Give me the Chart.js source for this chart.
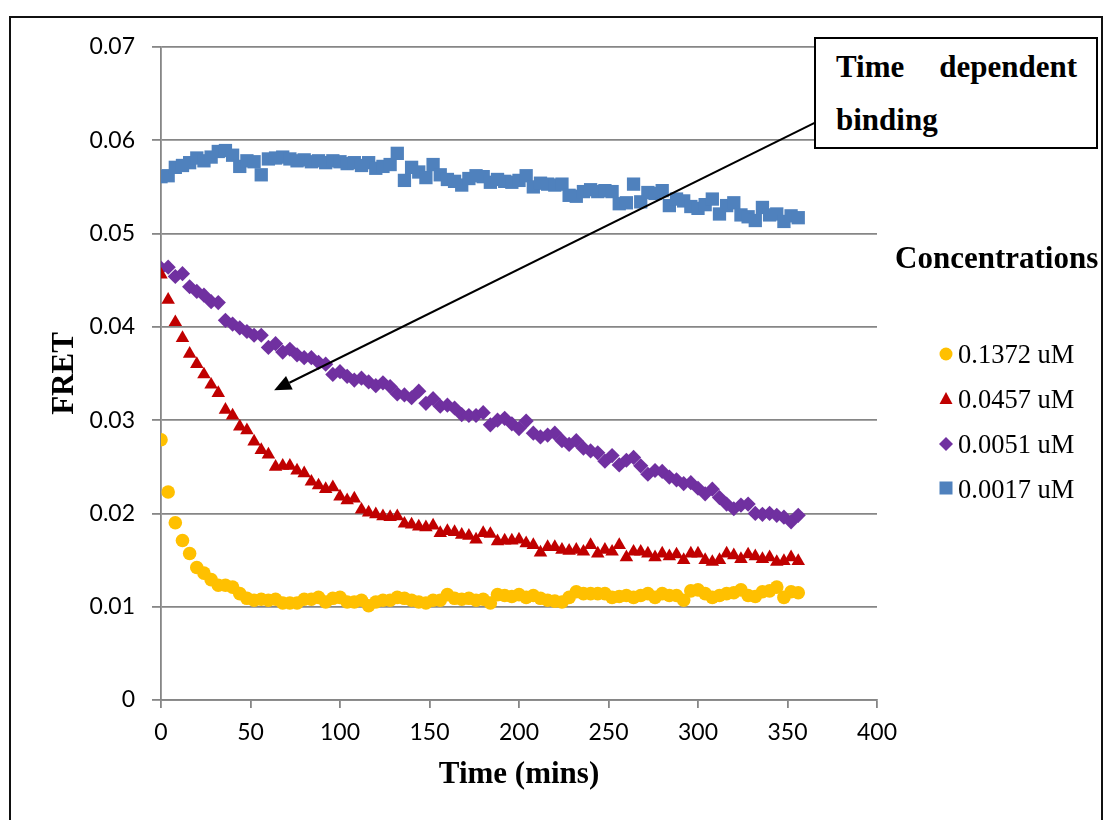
<!DOCTYPE html>
<html>
<head>
<meta charset="utf-8">
<script src="https://cdn.jsdelivr.net/npm/chart.js@4/dist/chart.umd.min.js"></script>
<style>
  html, body { margin:0; padding:0; background:#fff; overflow:hidden; }
  #wrap { position:relative; width:1104px; height:820px; overflow:hidden; }
  #c { position:absolute; left:0; top:0; }
  #frame { position:absolute; left:9px; top:16px; width:1094px; height:900px; box-sizing:border-box; border:2px solid #111; pointer-events:none; }
  .serif { font-family:"Liberation Serif","Times New Roman",serif; color:#000; }
  #note { position:absolute; left:814px; top:37px; width:284px; height:112px; box-sizing:border-box;
          border:2px solid #000; background:#fff; padding:1px 19px 0 20px; font-size:31px; font-weight:bold;
          line-height:53px; text-align:justify; }
  #legTitle { position:absolute; left:895px; top:242px; font-size:31px; font-weight:bold; line-height:31px; white-space:nowrap; }
  .leg { position:absolute; left:938px; font-size:26.5px; line-height:26px; white-space:nowrap; }
  .leg svg { position:absolute; left:0; top:0; }
  .leg span { position:absolute; left:20px; top:0; }
</style>
</head>
<body>
<div id="wrap">
  <canvas id="c" width="1104" height="820"></canvas>
  <div id="frame"></div>
  <div id="note" class="serif">Time dependent binding</div>
  <div id="legTitle" class="serif">Concentrations</div>
  <div id="legend"></div>
</div>
<script>
// ---- data ----
const times = [0,4,8,12,16,20,24,28,32,36,40,44,48,52,56,60,64,68,72,76,80,84,88,92,96,100,104,108,112,116,
  120,124,128,132,136,140,144,148,152,156,160,164,168,172,176,180,184,188,192,196,200,204,208,212,216,220,224,228,232,236,
  240,244,248,252,256,260,264,268,272,276,280,284,288,292,296,300,304,308,312,316,320,324,328,332,336,340,344,348,352,356];

const seriesNames = ['0.1372 uM','0.0457 uM','0.0051 uM','0.0017 uM'];

const fret01372 = [0.0279,0.0223,0.0190,0.0171,0.0157,0.0142,0.0136,0.0129,0.0123,0.0123,
  0.0121,0.0114,0.0109,0.0107,0.0108,0.0107,0.0108,0.0104,0.0104,0.0104,
  0.0108,0.0108,0.0110,0.0105,0.0109,0.0110,0.0105,0.0105,0.0107,0.0101,
  0.0105,0.0107,0.0107,0.0110,0.0109,0.0107,0.0105,0.0104,0.0107,0.0107,
  0.0113,0.0109,0.0108,0.0109,0.0107,0.0108,0.0104,0.0113,0.0112,0.0111,
  0.0113,0.0110,0.0112,0.0109,0.0107,0.0106,0.0105,0.0110,0.0116,0.0114,
  0.0114,0.0114,0.0114,0.0110,0.0111,0.0112,0.0110,0.0112,0.0114,0.0110,
  0.0114,0.0112,0.0112,0.0107,0.0117,0.0118,0.0114,0.0110,0.0112,0.0114,
  0.0115,0.0118,0.0112,0.0111,0.0116,0.0117,0.0121,0.0110,0.0116,0.0115];

const fret00457 = [0.0456,0.0429,0.0405,0.0388,0.0371,0.0360,0.0349,0.0338,0.0329,0.0311,
  0.0305,0.0293,0.0289,0.0277,0.0268,0.0263,0.0250,0.0251,0.0251,0.0246,
  0.0243,0.0234,0.0230,0.0226,0.0228,0.0218,0.0214,0.0216,0.0204,0.0201,
  0.0199,0.0197,0.0196,0.0197,0.0189,0.0188,0.0186,0.0185,0.0187,0.0179,
  0.0181,0.0180,0.0177,0.0176,0.0172,0.0179,0.0178,0.0170,0.0171,0.0171,
  0.0172,0.0168,0.0166,0.0158,0.0164,0.0164,0.0161,0.0160,0.0161,0.0159,
  0.0166,0.0157,0.0161,0.0159,0.0166,0.0153,0.0159,0.0159,0.0157,0.0153,
  0.0157,0.0154,0.0156,0.0150,0.0157,0.0157,0.0150,0.0148,0.0150,0.0157,
  0.0155,0.0151,0.0156,0.0154,0.0151,0.0153,0.0148,0.0149,0.0153,0.0149];

const fret00051 = [0.0463,0.0464,0.0454,0.0457,0.0443,0.0438,0.0434,0.0427,0.0426,0.0407,
  0.0403,0.0399,0.0395,0.0391,0.0391,0.0378,0.0382,0.0373,0.0376,0.0370,
  0.0367,0.0367,0.0362,0.0360,0.0349,0.0352,0.0347,0.0343,0.0345,0.0341,
  0.0337,0.0340,0.0336,0.0328,0.0327,0.0324,0.0331,0.0318,0.0323,0.0315,
  0.0316,0.0313,0.0306,0.0305,0.0305,0.0308,0.0295,0.0300,0.0302,0.0296,
  0.0291,0.0299,0.0286,0.0282,0.0284,0.0286,0.0278,0.0274,0.0278,0.0270,
  0.0267,0.0265,0.0256,0.0262,0.0252,0.0257,0.0260,0.0251,0.0242,0.0246,
  0.0245,0.0239,0.0236,0.0232,0.0233,0.0227,0.0221,0.0226,0.0217,0.0210,
  0.0205,0.0209,0.0210,0.0200,0.0199,0.0200,0.0198,0.0196,0.0191,0.0198];

const fret00017 = [0.0561,0.0562,0.0571,0.0573,0.0576,0.0581,0.0578,0.0582,0.0588,0.0589,
  0.0584,0.0572,0.0578,0.0577,0.0563,0.0580,0.0581,0.0582,0.0580,0.0578,
  0.0579,0.0577,0.0578,0.0576,0.0578,0.0577,0.0575,0.0576,0.0573,0.0576,
  0.0570,0.0572,0.0574,0.0586,0.0557,0.0571,0.0566,0.0560,0.0574,0.0563,
  0.0558,0.0556,0.0552,0.0559,0.0562,0.0561,0.0555,0.0558,0.0556,0.0555,
  0.0557,0.0562,0.0550,0.0554,0.0553,0.0552,0.0553,0.0541,0.0540,0.0545,
  0.0547,0.0545,0.0546,0.0545,0.0532,0.0533,0.0553,0.0534,0.0544,0.0543,
  0.0546,0.0530,0.0537,0.0535,0.0529,0.0527,0.0531,0.0537,0.0521,0.0530,
  0.0533,0.0520,0.0518,0.0514,0.0528,0.0520,0.0521,0.0513,0.0519,0.0517];

const xTickLabels = ['0','50','100','150','200','250','300','350','400'];
const yTickLabels = ['0','0.01','0.02','0.03','0.04','0.05','0.06','0.07'];

// annotation arrow (data coordinates: tail at text box, head in plot)
const arrowTail = {x: 365.4, y: 0.0619};
const arrowHead = {x: 63.2, y: 0.0332};

// ---- styling ----
const colors = ['#FFC000','#C00000','#7030A0','#4F81BD'];
const shapes = ['circle','triangle','rectRot','rect'];
const radii  = [6.8, 7.8, 7.6, 9.4];
const allSeries = [fret01372, fret00457, fret00051, fret00017];

const datasets = allSeries.map((vals, k) => ({
  label: seriesNames[k],
  data: vals.map((v, i) => ({x: times[i], y: v})),
  showLine: false,
  pointStyle: shapes[k],
  pointRadius: radii[k],
  pointHoverRadius: radii[k],
  pointBackgroundColor: colors[k],
  pointBorderColor: colors[k],
  pointBorderWidth: 0,
  backgroundColor: colors[k],
  borderColor: colors[k]
}));

const gridCol = '#868686';
const tickFont = {family: 'Lato', size: 23};
const titleFont = {family: '"Liberation Serif", "Times New Roman", serif', size: 31, weight: 'bold'};

const arrowPlugin = {
  id: 'arrow',
  afterDraw(chart) {
    const {ctx, scales:{x, y}} = chart;
    const x1 = x.getPixelForValue(arrowTail.x), y1 = y.getPixelForValue(arrowTail.y);
    const x2 = x.getPixelForValue(arrowHead.x), y2 = y.getPixelForValue(arrowHead.y);
    const ang = Math.atan2(y2 - y1, x2 - x1);
    const L = 17, W = 7.5;
    const bx = x2 - Math.cos(ang) * L, by = y2 - Math.sin(ang) * L;
    ctx.save();
    ctx.strokeStyle = '#000'; ctx.fillStyle = '#000'; ctx.lineWidth = 2;
    ctx.beginPath(); ctx.moveTo(x1, y1); ctx.lineTo(bx, by); ctx.stroke();
    ctx.beginPath();
    ctx.moveTo(x2, y2);
    ctx.lineTo(bx + Math.sin(ang) * W, by - Math.cos(ang) * W);
    ctx.lineTo(bx - Math.sin(ang) * W, by + Math.cos(ang) * W);
    ctx.closePath(); ctx.fill();
    ctx.restore();
  }
};

new Chart(document.getElementById('c'), {
  type: 'scatter',
  data: { datasets },
  options: {
    responsive: false,
    animation: false,
    events: [],
    layout: { padding: { left: 0, top: 47, right: 227, bottom: 0 } },
    plugins: { legend: { display: false }, tooltip: { enabled: false } },
    scales: {
      x: {
        type: 'linear', min: 0, max: 400,
        ticks: { stepSize: 50, padding: 11, font: tickFont, color: '#000',
                 callback: (v, i) => xTickLabels[i] },
        grid: { drawOnChartArea: false, drawTicks: true, tickLength: 8, color: gridCol, lineWidth: 1.8 },
        border: { display: true, color: gridCol, width: 1.8 },
        title: { display: true, text: 'Time (mins)', font: titleFont, color: '#000', padding: { top: 0, bottom: 26 } },
        afterFit: s => { s.height = 120; }
      },
      y: {
        type: 'linear', min: 0, max: 0.07,
        ticks: { stepSize: 0.01, padding: 17, font: tickFont, color: '#000',
                 callback: (v, i) => yTickLabels[i] },
        grid: { drawOnChartArea: true, drawTicks: true, tickLength: 9, color: gridCol, lineWidth: 1.8 },
        border: { display: true, color: gridCol, width: 1.8 },
        title: { display: true, text: 'FRET', font: titleFont, color: '#000', padding: { top: 46, bottom: 0 } },
        afterFit: s => { s.width = 161; }
      }
    }
  },
  plugins: [arrowPlugin]
});

// ---- legend (HTML) ----
const legendTops = [341, 386, 431, 476];
const legend = document.getElementById('legend');
seriesNames.forEach((name, k) => {
  const d = document.createElement('div');
  d.className = 'leg serif';
  d.style.top = legendTops[k] + 'px';
  let shape = '';
  const c = colors[k];
  if (k === 0) shape = `<circle cx="8" cy="13" r="6.5" fill="${c}"/>`;
  if (k === 1) shape = `<polygon points="8,6 14.5,18 1.5,18" fill="${c}"/>`;
  if (k === 2) shape = `<polygon points="8,6 15,13 8,20 1,13" fill="${c}"/>`;
  if (k === 3) shape = `<rect x="1.5" y="5.5" width="13" height="13" fill="${c}"/>`;
  d.innerHTML = `<svg width="16" height="26" viewBox="0 0 16 26">${shape}</svg><span>${name}</span>`;
  legend.appendChild(d);
});
</script>
</body>
</html>
